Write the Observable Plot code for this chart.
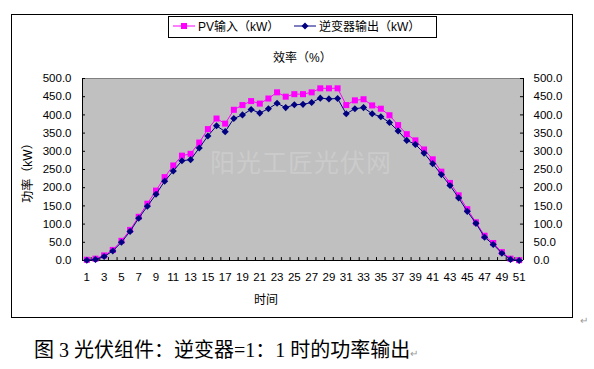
<!DOCTYPE html>
<html><head><meta charset="utf-8">
<script src="https://cdn.jsdelivr.net/npm/d3@7"></script>
<script src="https://cdn.jsdelivr.net/npm/@observablehq/plot@0.6"></script>
<style>
body{margin:0;background:#fff;width:594px;height:369px;position:relative;overflow:hidden;font-family:"Liberation Sans",Arial,"Noto Sans CJK SC",sans-serif;color:#000;}
.abs{position:absolute;white-space:nowrap;}
#frame{left:11px;top:14px;width:562px;height:304px;border:1px solid #000;box-sizing:border-box;}
#legend{left:168px;top:16px;width:269px;height:22px;border:1px solid #000;box-sizing:border-box;background:#fff;font-size:12px;}
#legend .it{position:absolute;top:3px;line-height:14px;}
#legend svg{position:absolute;top:2px;}
#title{left:273px;top:50px;font-size:12px;line-height:16px;}
#xtitle{left:254px;top:292px;font-size:12px;line-height:16px;}
#ytitle{left:28px;top:170px;font-size:12px;line-height:14px;transform:translate(-50%,-50%) rotate(-90deg);}
#wm{left:210px;top:146px;font-size:25px;line-height:30px;color:#cbcbcb;font-family:"Noto Sans CJK SC",sans-serif;letter-spacing:1px;}
#chart{left:0;top:60px;}
#caption{left:34px;top:338px;font-size:20px;line-height:24px;font-family:"Liberation Serif","Noto Sans CJK SC",serif;}
.mark{color:#999;font-size:10px;}
</style></head>
<body>
<div id="frame" class="abs"></div>
<div id="chart" class="abs"></div>
<div id="wm" class="abs">阳光工匠光伏网</div>
<div id="legend" class="abs">
  <svg style="left:4px" width="22" height="14"><line x1="0" y1="7" x2="22" y2="7" stroke="#FF00FF"/><rect x="8" y="4" width="6" height="6" fill="#FF00FF"/></svg>
  <span class="it" style="left:29px">PV输入（kW）</span>
  <svg style="left:125px" width="22" height="14"><line x1="0" y1="7" x2="22" y2="7" stroke="#000080"/><path d="M11,3.5L14.5,7L11,10.5L7.5,7Z" fill="#000080"/></svg>
  <span class="it" style="left:150px">逆变器输出（kW）</span>
</div>
<div id="title" class="abs">效率（%）</div>
<div id="xtitle" class="abs">时间</div>
<div id="ytitle" class="abs">功率（kW）</div>
<div class="abs mark" style="left:580px;top:315px;">↵</div>
<div id="caption" class="abs">图 3 光伏组件：逆变器=1：1 时的功率输出<span class="mark">↵</span></div>
<script>
const times = [1,2,3,4,5,6,7,8,9,10,11,12,13,14,15,16,17,18,19,20,21,22,23,24,25,26,27,28,29,30,31,32,33,34,35,36,37,38,39,40,41,42,43,44,45,46,47,48,49,50,51];
const pvInput = [2,5,14,29,54,84,120,156,192,229,261,288,293,324,361,390,376,414,427,438,431,445,462,450,457,457,462,473,473,473,427,440,443,426,417,399,372,347,330,305,278,244,213,179,141,105,68,48,23,5,1];
const inverterOutput = [0.5,3,11,26,50,80,116,149,182,218,246,274,277,309,342,370,354,390,400,415,405,417,432,420,428,429,434,446,444,445,403,417,420,403,395,379,356,330,319,295,266,236,206,172,135,102,64,44,20,3,0];
const yTicks = [0,50,100,150,200,250,300,350,400,450,500];
const xTickLabels = [1,3,5,7,9,11,13,15,17,19,21,23,25,27,29,31,33,35,37,39,41,43,45,47,49,51];

const pvData = times.map((t,i)=>({t, v: pvInput[i]}));
const invData = times.map((t,i)=>({t, v: inverterOutput[i]}));
const x0 = times[0] - 0.5, x1 = times[times.length-1] + 0.5;
const bounds = times.map(t=>t-0.5).concat([x1]);
const tickLenY = 8;     // inward tick length in y units (~3px)
const tickLenX = 0.35;  // inward tick length in x units (~3px)

const plot = Plot.plot({
  width: 594, height: 260,
  marginTop: 18, marginBottom: 60, marginLeft: 82, marginRight: 71,
  style: {background: "transparent", fontFamily: "Liberation Sans, Arial, sans-serif", fontSize: "11.5px", color: "#000", overflow: "visible"},
  x: {type: "linear", domain: [x0, x1]},
  y: {domain: [0, 500]},
  marks: [
    Plot.frame({fill: "#C0C0C0", stroke: null}),
    Plot.ruleY([500], {stroke: "#808080"}),
    Plot.ruleY([0], {stroke: "#000"}),
    Plot.ruleX([x0], {stroke: "#000"}),
    Plot.ruleX([x1], {stroke: "#000"}),
    Plot.ruleX(bounds, {x: d=>d, y1: 0, y2: tickLenY, stroke: "#000"}),
    Plot.ruleY(yTicks, {y: d=>d, x1: x0, x2: x0 + tickLenX, stroke: "#000"}),
    Plot.ruleY(yTicks, {y: d=>d, x1: x1 - tickLenX, x2: x1, stroke: "#000"}),
    Plot.line(pvData, {x: "t", y: "v", stroke: "#FF00FF", strokeWidth: 1}),
    Plot.dot(pvData, {x: "t", y: "v", symbol: "square", r: 3.4, fill: "#FF00FF", stroke: null}),
    Plot.line(invData, {x: "t", y: "v", stroke: "#000080", strokeWidth: 1}),
    Plot.dot(invData, {x: "t", y: "v", symbol: "diamond2", r: 3.2, fill: "#000080", stroke: null}),
    Plot.axisX(xTickLabels, {tickSize: 0, tickPadding: 12, label: null, tickFormat: d=>String(d)}),
    Plot.axisY(yTicks, {anchor: "left", tickSize: 0, tickPadding: 11, label: null, tickFormat: d=>d.toFixed(1)}),
    Plot.axisY(yTicks, {anchor: "right", tickSize: 0, tickPadding: 10, label: null, tickFormat: d=>d.toFixed(1)})
  ]
});
document.getElementById("chart").appendChild(plot);
</script>
</body></html>
